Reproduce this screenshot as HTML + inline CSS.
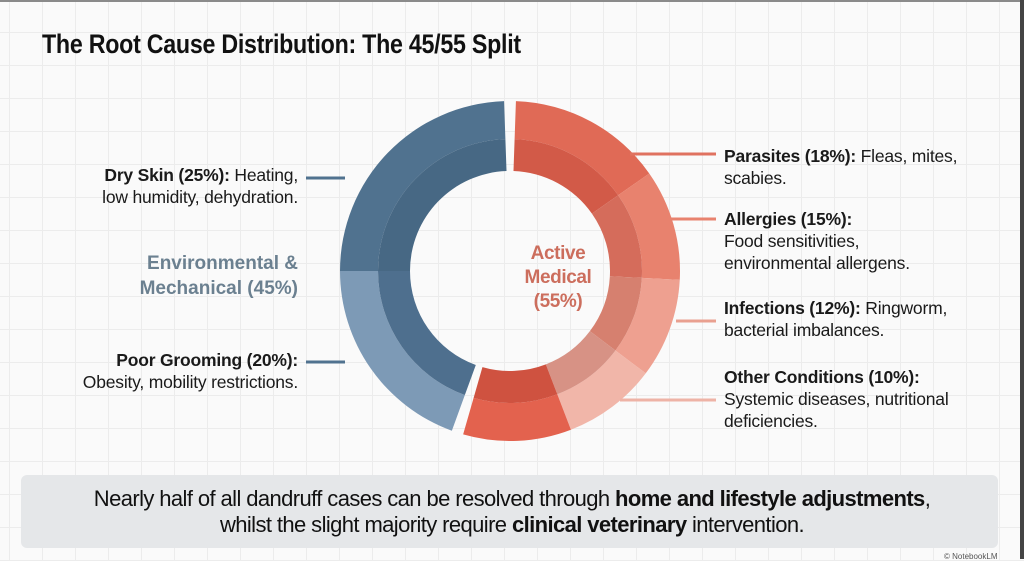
<!DOCTYPE html>
<html><head><meta charset="utf-8"><style>
html,body{margin:0;padding:0;}
body{width:1024px;height:559px;overflow:hidden;position:relative;background:#fafafa;font-family:"Liberation Sans",Arial,sans-serif;
background-image:linear-gradient(#ececec 1px,transparent 1px),linear-gradient(90deg,#ececec 1px,transparent 1px);background-size:33px 33px;background-position:9px -1px;}
.t{position:absolute;white-space:nowrap;}
.title{left:42px;top:29px;font-size:27px;font-weight:bold;color:#111;letter-spacing:-0.3px;transform:scaleX(0.86);transform-origin:left top;}
.lab{font-size:17.5px;color:#1a1a1a;line-height:22px;letter-spacing:-0.2px;}
.lab b{font-weight:bold;}
.r{text-align:right;}
.box{position:absolute;left:21px;top:475px;width:977px;height:73px;background:#e5e7e9;border-radius:6px;}
.bt{position:absolute;left:0;width:1024px;text-align:center;font-size:22px;color:#111;letter-spacing:-0.6px;}
</style></head><body>
<div style="position:absolute;left:0;top:0;width:1024px;height:2px;background:#8a8a8a"></div>
<div style="position:absolute;right:0;top:0;width:4px;height:559px;background:#444"></div>
<div class="t title">The Root Cause Distribution: The 45/55 Split</div>
<svg id="s" width="1024" height="559" style="position:absolute;left:0;top:0"></svg>
<div class="t lab r" style="right:726px;top:164px"><b>Dry Skin (25%):</b> Heating,<br>low humidity, dehydration.</div>
<div class="t r" style="right:726px;top:251px;font-size:19px;font-weight:bold;color:#6b8090;line-height:25px">Environmental &amp;<br>Mechanical (45%)</div>
<div class="t lab r" style="right:726px;top:349px"><b>Poor Grooming (20%):</b><br>Obesity, mobility restrictions.</div>
<div class="t" style="left:508px;top:242px;width:100px;text-align:center;font-size:19px;font-weight:bold;color:#cc6e5d;line-height:24px;letter-spacing:-0.4px">Active<br>Medical<br>(55%)</div>
<div class="t lab" style="left:724px;top:145px"><b>Parasites (18%):</b> Fleas, mites,<br>scabies.</div>
<div class="t lab" style="left:724px;top:208px"><b>Allergies (15%):</b><br>Food sensitivities,<br>environmental allergens.</div>
<div class="t lab" style="left:724px;top:297px"><b>Infections (12%):</b> Ringworm,<br>bacterial imbalances.</div>
<div class="t lab" style="left:724px;top:366px"><b>Other Conditions (10%):</b><br>Systemic diseases, nutritional<br>deficiencies.</div>
<div class="box"></div>
<div class="bt" style="top:486px">Nearly half of all dandruff cases can be resolved through <b>home and lifestyle adjustments</b>,</div>
<div class="bt" style="top:512px">whilst the slight majority require <b>clinical veterinary</b> intervention.</div>
<div class="t" style="left:944px;top:552px;font-size:8px;color:#555">© NotebookLM</div>
<script>
var cx=510,cy=271;
function pt(r,a){a=(a-90)*Math.PI/180;return [cx+r*Math.cos(a),cy+r*Math.sin(a)];}
function arc(r1,r2,a1,a2,c){var p1=pt(r2,a1),p2=pt(r2,a2),p3=pt(r1,a2),p4=pt(r1,a1),l=(a2-a1)>180?1:0;
return '<path d="M'+p1+' A'+r2+' '+r2+' 0 '+l+' 1 '+p2+' L'+p3+' A'+r1+' '+r1+' 0 '+l+' 0 '+p4+'Z" fill="'+c+'"/>';}
var h='';
var segs=[[2,55,'#e06a56','#d25a48'],[55,93,'#e8826e','#d56c5b'],[93,127,'#eea090','#d6806f'],[127,159,'#f1b6a9','#d79285'],[159,196,'#e3624e','#cf5240'],
[200,270,'#7d9ab6','#4e6f8e'],[270,358,'#50728f','#476884']];
segs.forEach(function(s){h+=arc(132,170,s[0],s[1],s[2]);h+=arc(100,132,s[0],s[1],s[3]);});
function ln(x1,x2,y,c){h+='<rect x="'+x1+'" y="'+(y-1.5)+'" width="'+(x2-x1)+'" height="3" fill="'+c+'"/>';}
ln(306,345,178,'#50728f');ln(306,345,362,'#50728f');
ln(630,716,154,'#e07260');ln(668,716,219,'#e8826e');ln(676,716,321,'#e9a090');ln(620,716,400,'#eeb3a6');
document.getElementById('s').innerHTML=h;
</script>
</body></html>
